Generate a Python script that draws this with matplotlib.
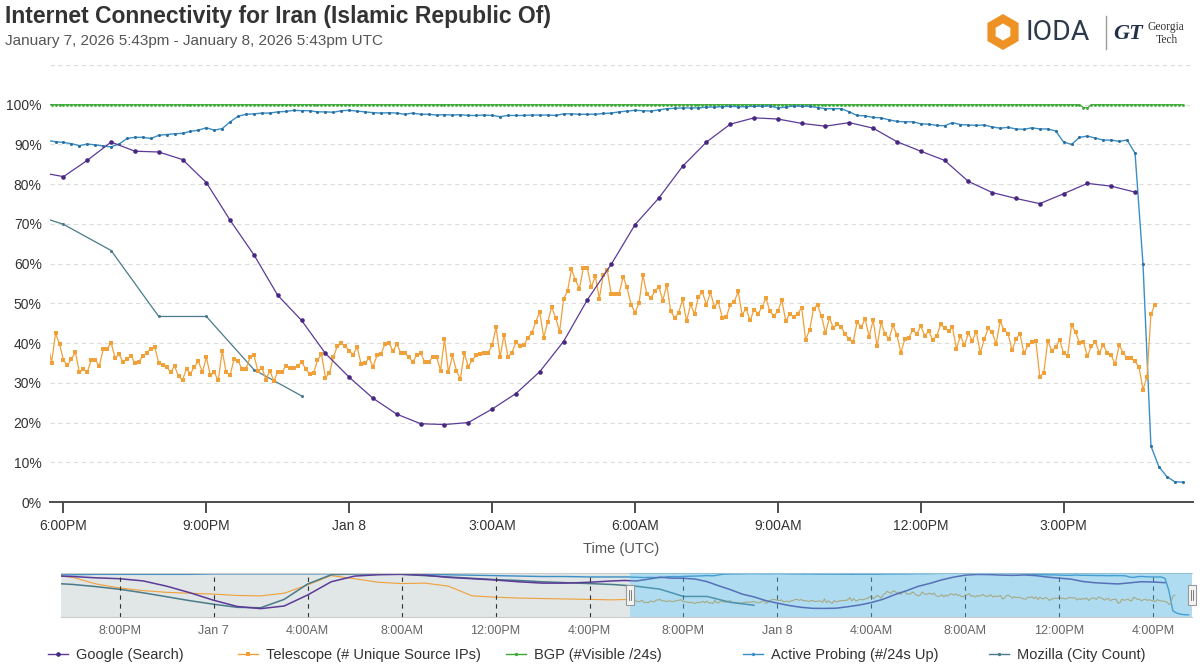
import numpy as np
import matplotlib
matplotlib.use("Agg")
import matplotlib.pyplot as plt
from matplotlib.patches import RegularPolygon, Rectangle
from matplotlib.lines import Line2D

plt.rcParams['font.family'] = ['Liberation Sans', 'DejaVu Sans']

# ---------------- DATA (time = hours since Jan 7 00:00 UTC) ----------------
title = "Internet Connectivity for Iran (Islamic Republic Of)"
subtitle = "January 7, 2026 5:43pm - January 8, 2026 5:43pm UTC"
series_names = ["Google (Search)", "Telescope (# Unique Source IPs)", "BGP (#Visible /24s)",
                "Active Probing (#/24s Up)", "Mozilla (City Count)"]

main_ticks = [18, 21, 24, 27, 30, 33, 36, 39]
main_tick_labels = ["6:00PM", "9:00PM", "Jan 8", "3:00AM", "6:00AM", "9:00AM", "12:00PM", "3:00PM"]
y_ticks = [0, 10, 20, 30, 40, 50, 60, 70, 80, 90, 100, 110]
y_tick_labels = ["0%", "10%", "20%", "30%", "40%", "50%", "60%", "70%", "80%", "90%", "100%", ""]
nav_ticks = [-4, 0, 4, 8, 12, 16, 20, 24, 28, 32, 36, 40]
nav_tick_labels = ["8:00PM", "Jan 7", "4:00AM", "8:00AM", "12:00PM", "4:00PM",
                   "8:00PM", "Jan 8", "4:00AM", "8:00AM", "12:00PM", "4:00PM"]

# Google (Search): every 30 min from 17:30
google_start, google_step = 17.5, 0.5
google_pct = [83.0, 81.9, 86.0, 90.6, 88.3, 88.1, 86.2, 80.4, 70.9, 62.2,
              52.0, 45.7, 37.4, 31.4, 26.1, 22.1, 19.7, 19.5, 20.0, 23.4,
              27.3, 32.8, 40.4, 50.9, 59.8, 69.8, 76.5, 84.5, 90.6, 95.1,
              96.7, 96.4, 95.3, 94.6, 95.5, 94.1, 90.7, 88.3, 86.0, 80.7,
              77.9, 76.4, 75.1, 77.6, 80.2, 79.5, 78.0]

# Mozilla (City Count): hourly from 17:00
mozilla_start, mozilla_step = 17.0, 1.0
mozilla_pct = [73.8, 69.9, 63.3, 46.7, 46.7, 33.3, 26.7]

# Telescope: every 5 min from 17:40
telescope_start, telescope_step = 17 + 40 / 60, 1 / 12
telescope_pct = [
    40.0,
    35.1, 42.5, 39.7, 35.7, 34.4, 36.0, 37.7, 32.6, 33.4, 32.7, 35.8, 35.8, 34.2, 38.4, 38.6, 40.1,
    36.2, 37.2, 35.2, 36.0, 36.8, 34.9, 35.3, 36.8, 37.5, 38.6, 39.0, 35.0, 34.4, 34.0, 32.7, 34.2,
    31.6, 30.7, 33.6, 32.3, 34.1, 35.4, 32.7, 36.4, 31.9, 32.6, 30.6, 38.1, 32.6, 32.0, 36.1, 35.4,
    33.6,
    33.6, 36.4, 36.9, 32.9, 33.8, 30.8, 33.1, 30.4, 32.8, 32.6, 34.2, 33.8, 33.7, 34.2, 35.2, 33.6,
    32.2, 32.4, 35.7, 37.2, 31.3, 32.4, 36.5, 39.2, 39.9, 39.3, 38.0, 37.1, 39.0, 34.7, 35.0, 36.2,
    34.1, 36.9, 37.3, 39.7, 40.1, 38.0, 39.7, 37.5, 37.5, 36.4, 35.3, 36.9, 37.5, 35.3, 35.3, 36.4,
    36.5, 33.1, 41.0, 32.6, 36.9, 33.1, 30.9, 37.5, 34.0, 35.7, 37.0, 37.3, 37.5, 37.6, 39.4, 44.0,
    36.5, 42.1, 36.5, 37.6, 40.3, 39.2, 39.5, 41.3, 42.5, 45.4, 47.8, 41.4, 45.3, 49.1, 46.4, 42.9,
    51.0, 53.1, 58.6, 55.8, 53.7, 59.0, 58.8, 54.0, 56.9, 51.2, 57.1, 58.4, 52.3, 52.3, 52.4, 56.7,
    54.0, 49.7,
    47.7, 50.0, 57.1, 52.3, 51.4, 53.0, 54.2, 50.7, 54.7, 48.0, 46.4, 47.6, 51.0, 45.5, 49.8, 47.3,
    51.7, 52.8, 49.6, 52.8, 49.2, 50.3, 46.4, 46.5, 49.7, 50.4, 53.0, 47.1, 48.7, 45.7, 48.4, 47.4,
    49.0, 51.3, 48.0, 46.9, 48.0, 50.8, 45.5, 47.4, 46.6, 47.4, 48.9, 40.9, 43.3, 48.7, 49.6, 46.7,
    42.5, 46.4,
    43.7, 44.8, 44.0, 42.2, 41.0, 40.4, 45.4, 44.0, 46.1, 41.6, 45.8, 39.2, 45.2, 42.3, 41.0, 44.5,
    42.0, 37.6, 41.0, 41.4, 43.3, 42.3, 44.3, 41.9, 43.0, 40.9, 41.7, 44.7, 43.8, 43.1, 44.0, 38.5,
    41.9, 39.4, 42.5, 40.6, 42.9, 37.5, 41.0, 43.7, 42.7, 39.8, 45.5, 43.3, 42.4, 38.2, 41.0, 42.4,
    37.4,
    39.4, 40.2, 40.5, 31.5, 32.5, 40.5, 38.1, 38.9, 40.9, 37.4, 36.8, 44.5, 42.8, 40.0, 40.3, 36.7,
    39.2, 40.3, 37.6, 39.5, 37.5, 36.9, 34.7, 39.5, 37.6, 36.2, 36.2, 35.4, 33.9, 28.3, 31.4, 47.2,
    49.7]

# Active Probing: every 10 min from 17:40
active_start, active_step = 17 + 40 / 60, 1 / 6
active_pct = [
    91.0,
    90.7, 90.5, 90.2, 89.7, 90.1, 89.9, 89.6, 89.4, 90.1, 91.5, 91.8, 91.8, 91.5, 92.3, 92.5, 92.7,
    92.8, 93.3, 93.6, 94.2, 93.6, 94.0, 95.7, 97.1, 97.6, 97.7, 97.9, 97.9, 98.2, 98.3, 98.6, 98.5,
    98.5, 98.2, 98.2, 98.1, 98.5, 98.6, 98.4, 98.2, 98.0, 97.9, 98.0, 97.9,
    97.6, 97.9, 97.6, 97.6, 97.4, 97.5, 97.4, 97.5, 97.3, 97.3, 97.4, 97.3, 97.0, 97.3, 97.3, 97.3,
    97.4, 97.4, 97.4, 97.3, 97.7, 97.7, 97.6, 97.6, 97.6, 97.8, 97.9, 98.2, 98.4, 98.6, 98.5, 98.4,
    98.7, 99.0, 99.1, 99.2, 99.2, 99.2, 99.4, 99.4, 99.5, 99.6, 99.5, 99.5, 99.6, 99.6, 99.7, 99.2,
    99.4, 99.7, 99.6, 99.6, 99.3, 99.0, 99.0, 99.0, 98.2, 97.3, 97.2, 96.8, 96.7, 96.2, 95.8, 95.7,
    95.7, 95.2, 95.1, 94.8, 94.7, 95.5, 95.0, 94.9, 94.8, 94.9, 94.4, 94.1, 94.3, 93.9, 93.8, 94.2,
    93.9, 93.9, 93.4, 90.6, 90.0, 91.8, 92.1, 91.6, 91.1, 91.1, 90.8, 91.1, 87.8, 59.9, 14.1, 8.9,
    6.4, 5.1, 5.0]

# BGP: every 5 min from 17:40
bgp_start, bgp_step = 17 + 40 / 60, 1 / 12
bgp_pct = [
    100, 100, 100, 100, 100, 100, 100, 100, 100, 100, 100, 100, 100, 100, 100, 100, 100, 100, 100, 100, 100, 100, 100, 100,
    100, 100, 100, 100, 100, 100, 100, 100, 100, 100, 100, 100, 100, 100, 100, 100, 100, 100, 100, 100, 100, 100, 100, 100,
    100, 100, 100, 100, 100, 100, 100, 100, 100, 100, 100, 100, 100, 100, 100, 100, 100, 100, 100, 100, 100, 100, 100, 100,
    100, 100, 100, 100, 100, 100, 100, 100, 100, 100, 100, 100, 100, 100, 100, 100, 100, 100, 100, 100, 100, 100, 100, 100,
    100, 100, 100, 100, 100, 100, 100, 100, 100, 100, 100, 100, 100, 100, 100, 100, 100, 100, 100, 100, 100, 100, 100, 100,
    100, 100, 100, 100, 100, 100, 100, 100, 100, 100, 100, 100, 100, 100, 100, 100, 100, 100, 100, 100, 100, 100, 100, 100,
    100, 100, 100, 100, 100, 100, 100, 100, 100, 100, 100, 100, 100, 100, 100, 100, 100, 100, 100, 100, 100, 100, 100, 100,
    100, 100, 100, 100, 100, 100, 100, 100, 100, 100, 100, 100, 100, 100, 100, 100, 100, 100, 100, 100, 100, 100, 100, 100,
    100, 100, 100, 100, 100, 100, 100, 100, 100, 100, 100, 100, 100, 100, 100, 100, 100, 100, 100, 100, 100, 100, 100, 100,
    100, 100, 100, 100, 100, 100, 100, 100, 100, 100, 100, 100, 100, 100, 100, 100, 100, 100, 100, 100, 100, 100, 100, 100,
    100, 100, 100, 100, 100, 100, 100, 100, 100, 100, 100, 100, 100, 100, 100, 100, 100, 100, 100, 100, 100,
    99.3, 99.2,
    100, 100, 100, 100, 100, 100, 100, 100, 100, 100, 100, 100, 100, 100, 100, 100, 100, 100, 100, 100, 100, 100, 100, 100]

# Navigator: previous day (hourly from Jan 6 17:00)
nav_day1_start, nav_day1_step = -7.0, 1.0
nav_google_day1 = [94, 92, 89, 87, 82, 70, 55, 38, 24, 19, 25, 50, 80, 93, 96, 97, 95, 90, 87, 84, 80, 77, 77, 79, 82]
nav_mozilla_day1 = [77, 74, 69, 63, 55, 46, 37, 29, 22, 21, 40, 75, 96, 98, 98, 97, 94, 91, 88, 85, 83, 80, 78, 76]
nav_telescope_day1 = [96, 90, 75, 66, 60, 56, 54, 52, 49, 48, 54, 73, 94, 87, 79, 76, 77, 70, 48, 45, 43, 42, 41, 40, 39]
nav_active_day1 = [96, 96, 97, 97, 97, 97, 97, 98, 98, 98, 98, 98, 98, 98, 98, 98, 97, 96, 95, 94, 93, 92, 92, 91, 91]
nav_bgp_day1 = [100, 100, 100, 100, 100, 100, 100, 100, 100, 100, 100, 100, 100, 100, 100, 100, 100, 100, 100, 100, 100, 100, 100, 100, 100]

# ---------------- STYLE ----------------
C_GOOGLE = "#5b3a98"
C_TELE = "#f0a13a"
C_BGP = "#3aa935"
C_ACTIVE = "#3b8ec6"
C_MOZ = "#4b7a8a"

main_xlim = (17 + 43 / 60, 41 + 43 / 60)
nav_xlim = (-6.5, 41.65)

W, H = 1200, 672
fig = plt.figure(figsize=(12, 6.72), dpi=100)
fig.patch.set_facecolor("white")


def fx(px):
    return px / W


def fy(py):
    return 1 - py / H


def times(start, step, n):
    return start + step * np.arange(n)


t_google = times(google_start, google_step, len(google_pct))
t_moz = times(mozilla_start, mozilla_step, len(mozilla_pct))
t_tele = times(telescope_start, telescope_step, len(telescope_pct))
t_active = times(active_start, active_step, len(active_pct))
t_bgp = times(bgp_start, bgp_step, len(bgp_pct))

# ---------------- TITLE ----------------
fig.text(fx(5), fy(17), title, fontsize=16.5, fontweight="bold", color="#333333", ha="left", va="center")
fig.text(fx(5), fy(41), subtitle, fontsize=11, color="#555555", ha="left", va="center")

# ---------------- LOGO ----------------
lax = fig.add_axes([fx(975), fy(60), fx(1200) - fx(975), fy(5) - fy(60)])
lax.set_xlim(975, 1200)
lax.set_ylim(60, 5)
lax.axis("off")
lax.add_patch(RegularPolygon((1003, 32), numVertices=6, radius=18, facecolor="#ee9225", edgecolor="none"))
lax.add_patch(RegularPolygon((1003, 32), numVertices=6, radius=8.5, facecolor="white", edgecolor="none"))
lax.text(1026, 33, "IODA", fontsize=20.5, color="#2e3a4b", ha="left", va="center", family=["Roboto", "DejaVu Sans"])
lax.plot([1106, 1106], [16, 49], color="#9a9a9a", lw=1)
lax.text(1113, 34, "GT", fontsize=16, fontweight="bold", style="italic", color="#22304a",
         ha="left", va="center", family=["Liberation Serif", "DejaVu Serif"])
lax.text(1148, 27, "Georgia", fontsize=8.3, color="#333333", ha="left", va="center",
         family=["Liberation Serif", "DejaVu Serif"])
lax.text(1156, 40, "Tech", fontsize=8.3, color="#333333", ha="left", va="center",
         family=["Liberation Serif", "DejaVu Serif"])

# ---------------- MAIN CHART ----------------
ax = fig.add_axes([fx(50), fy(502), fx(1193) - fx(50), fy(65) - fy(502)])
ax.set_xlim(*main_xlim)
ax.set_ylim(0, 110)
ax.set_yticks(y_ticks)
ax.set_yticklabels(y_tick_labels)
ax.set_xticks(main_ticks)
ax.set_xticklabels(main_tick_labels)
ax.grid(True, axis="y", color="#dddddd", lw=0.8, ls=(0, (4, 3)))
ax.set_axisbelow(True)
for s in ["top", "right", "left"]:
    ax.spines[s].set_visible(False)
ax.spines["bottom"].set_color("#4d4d4d")
ax.spines["bottom"].set_linewidth(1.4)
ax.tick_params(axis="y", length=0, pad=6, labelsize=10, labelcolor="#333333")
ax.tick_params(axis="x", length=8, width=1.4, color="#4d4d4d", pad=4, labelsize=10, labelcolor="#333333")

ax.plot(t_bgp, bgp_pct, color=C_BGP, lw=0.9, marker="o", ms=2.0, mew=0, zorder=3)
ax.plot(t_active, active_pct, color=C_ACTIVE, lw=1.0, marker="o", ms=2.2, mew=0, mfc="#2a6f9e", zorder=3)
ax.plot(t_moz, mozilla_pct, color=C_MOZ, lw=0.9, marker="o", ms=2.2, mew=0, zorder=3)
ax.plot(t_tele, telescope_pct, color=C_TELE, lw=0.9, marker="s", ms=2.8, mew=0, zorder=4)
ax.plot(t_google, google_pct, color=C_GOOGLE, lw=0.9, marker="o", ms=3.3, mew=0, mfc="#47277f", zorder=5)

fig.text(fx(621), fy(549), "Time (UTC)", fontsize=10.5, color="#555555", ha="center", va="center")

# ---------------- NAVIGATOR ----------------
nav = fig.add_axes([fx(61), fy(617), fx(1192) - fx(61), fy(573) - fy(617)])
nav.set_xlim(*nav_xlim)
nav.set_ylim(0, 100)
nav.set_yticks([])
nav.set_xticks(nav_ticks)
nav.set_xticklabels(nav_tick_labels)
nav.tick_params(axis="x", length=0, pad=6, labelsize=9, labelcolor="#666666")
for s in ["left", "right"]:
    nav.spines[s].set_visible(False)
for s in ["top", "bottom"]:
    nav.spines[s].set_color("#cccccc")
    nav.spines[s].set_linewidth(0.8)
nav.grid(True, axis="x", color="#333333", lw=0.8, ls=(0, (4, 4)))
nav.set_axisbelow(False)
nav.axvspan(nav_xlim[0], main_xlim[0], color="#e1e6e6", zorder=0, lw=0)

t_day1 = times(nav_day1_start, nav_day1_step, 25)
nav.plot(np.concatenate([t_day1[:len(nav_bgp_day1)], t_bgp]), nav_bgp_day1 + bgp_pct, color=C_BGP, lw=1.0, zorder=2)
nav.plot(np.concatenate([t_day1[:len(nav_active_day1)], t_active]), nav_active_day1 + active_pct,
         color=C_ACTIVE, lw=1.0, zorder=2)
nav.plot(np.concatenate([t_day1[:len(nav_telescope_day1)], t_tele]), nav_telescope_day1 + telescope_pct,
         color=C_TELE, lw=0.8, zorder=2)
nav.plot(np.concatenate([t_day1[:len(nav_mozilla_day1)], t_moz]), nav_mozilla_day1 + mozilla_pct,
         color=C_MOZ, lw=1.1, zorder=2)
nav.plot(np.concatenate([t_day1[:len(nav_google_day1)], t_google]), nav_google_day1 + google_pct,
         color=C_GOOGLE, lw=1.1, zorder=2)

nav.add_patch(Rectangle((main_xlim[0], 0), nav_xlim[1] - main_xlim[0], 100, facecolor="#4fb3df",
                        alpha=0.45, edgecolor="none", zorder=5))
hw = 8 / 23.5
for hx in [main_xlim[0], nav_xlim[1]]:
    nav.add_patch(Rectangle((hx - hw / 2, 27), hw, 46, facecolor="#f4f4f4", edgecolor="#999999",
                            lw=0.8, zorder=7, clip_on=False))
    for dx in (-0.05, 0.05):
        nav.add_line(Line2D([hx + dx, hx + dx], [38, 62], color="#666666", lw=0.6, zorder=8, clip_on=False))

# ---------------- LEGEND ----------------
legend_styles = [
    dict(color=C_GOOGLE, marker="o", ms=3.3, mfc="#47277f"),
    dict(color=C_TELE, marker="s", ms=2.8),
    dict(color=C_BGP, marker="o", ms=2.4),
    dict(color=C_ACTIVE, marker="o", ms=2.4),
    dict(color=C_MOZ, marker="o", ms=2.4),
]
legend_x = [48, 238, 506, 743, 989]
for name, st, lx in zip(series_names, legend_styles, legend_x):
    h = Line2D([], [], lw=1.0, mew=0, **st)
    fig.legend([h], [name], loc="center left", bbox_to_anchor=(fx(lx), fy(655)), frameon=False,
               fontsize=10.5, handlelength=1.4, handletextpad=0.5, borderpad=0, borderaxespad=0,
               labelcolor="#333333")

fig.savefig("out.png", dpi=100, facecolor="white")
